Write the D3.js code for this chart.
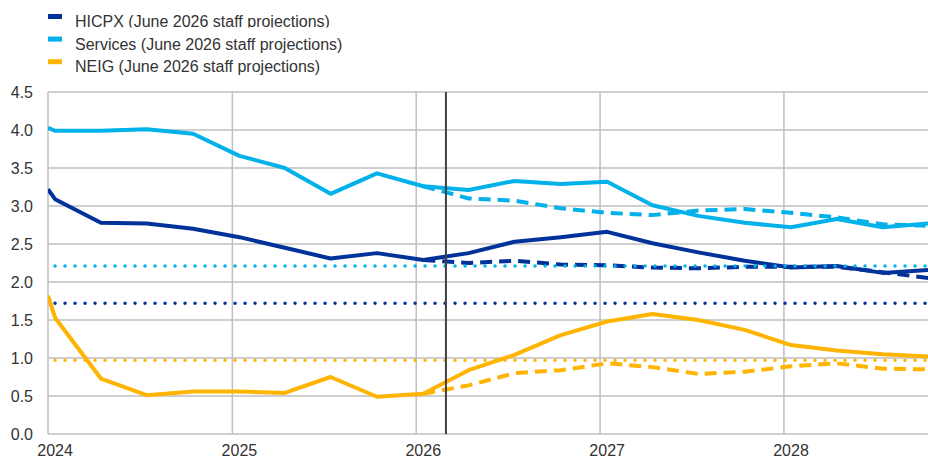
<!DOCTYPE html>
<html>
<head>
<meta charset="utf-8">
<script src="https://cdn.jsdelivr.net/npm/d3@7"></script>
<style>
  body { margin: 0; background: #fff; }
  svg { display: block; font-family: "Liberation Sans", Arial, sans-serif; }
</style>
</head>
<body>
<div id="chart"></div>
<script>
// quarterly observations (first point sits on the axis start)
const dates = [
  "2024-01-01", "2024-01-15", "2024-04-15", "2024-07-15", "2024-10-15",
  "2025-01-15", "2025-04-15", "2025-07-15", "2025-10-15",
  "2026-01-15", "2026-04-15", "2026-07-15", "2026-10-15",
  "2027-01-15", "2027-04-15", "2027-07-15", "2027-10-15",
  "2028-01-15", "2028-04-15", "2028-07-15", "2028-10-15"
];

// solid lines: June 2026 staff projections
const hicpx    = [3.22, 3.09, 2.78, 2.77, 2.70, 2.59, 2.45, 2.31, 2.38, 2.29, 2.38, 2.53, 2.59, 2.66, 2.51, 2.39, 2.28, 2.19, 2.21, 2.12, 2.16];
const services = [4.03, 3.99, 3.99, 4.01, 3.95, 3.66, 3.50, 3.16, 3.43, 3.26, 3.21, 3.33, 3.29, 3.32, 3.01, 2.87, 2.78, 2.72, 2.83, 2.72, 2.77];
const neig     = [1.82, 1.53, 0.73, 0.51, 0.56, 0.56, 0.54, 0.75, 0.49, 0.53, 0.84, 1.04, 1.30, 1.48, 1.58, 1.50, 1.37, 1.17, 1.10, 1.05, 1.02];

// dashed lines: start at 2026 Q1
const dashedStart = "2026-01-15";
const hicpxDashed    = [2.29, 2.25, 2.28, 2.23, 2.22, 2.19, 2.18, 2.20, 2.20, 2.20, 2.13, 2.05];
const servicesDashed = [3.26, 3.10, 3.07, 2.97, 2.91, 2.88, 2.94, 2.96, 2.91, 2.85, 2.76, 2.74];
const neigDashed     = [0.53, 0.64, 0.80, 0.84, 0.93, 0.88, 0.79, 0.82, 0.89, 0.93, 0.86, 0.85];

// dotted lines: averages
const averages = { hicpx: 1.72, services: 2.21, neig: 0.97 };

const cutoffDate = "2026-03-01";
const yTicks = [0, 0.5, 1, 1.5, 2, 2.5, 3, 3.5, 4, 4.5];
const years = [2024, 2025, 2026, 2027, 2028];
const legendLabels = [
  "HICPX (June 2026 staff projections)",
  "Services (June 2026 staff projections)",
  "NEIG (June 2026 staff projections)"
];

const colors = { hicpx: "#003299", services: "#00b1ea", neig: "#ffb400" };

const width = 928, height = 459;
const plotLeft = 48, plotRight = 928, plotTop = 92, plotBottom = 434;

const parse = d3.timeParse("%Y-%m-%d");
const x = d3.scaleTime()
  .domain([parse("2024-01-01"), parse("2028-10-13")])
  .range([plotLeft, plotRight]);
const y = d3.scaleLinear().domain([0, 4.5]).range([plotBottom, plotTop]);

const svg = d3.select("#chart").append("svg")
  .attr("width", width)
  .attr("height", height);

svg.append("clipPath").attr("id", "plot")
  .append("rect")
  .attr("x", plotLeft).attr("y", 0)
  .attr("width", plotRight - plotLeft).attr("height", height);

// gridlines
svg.append("g")
  .selectAll("line")
  .data(yTicks)
  .join("line")
  .attr("x1", plotLeft).attr("x2", plotRight)
  .attr("y1", d => y(d)).attr("y2", d => y(d))
  .attr("stroke", "#bfbfbf")
  .attr("stroke-width", 1.5);

svg.append("g")
  .selectAll("line")
  .data(years)
  .join("line")
  .attr("x1", d => x(new Date(d, 0, 1))).attr("x2", d => x(new Date(d, 0, 1)))
  .attr("y1", plotTop).attr("y2", plotBottom)
  .attr("stroke", "#bfbfbf")
  .attr("stroke-width", 1.5);

// y labels
svg.append("g")
  .selectAll("text")
  .data(yTicks)
  .join("text")
  .attr("x", 33)
  .attr("y", d => y(d))
  .attr("dy", "0.35em")
  .attr("text-anchor", "end")
  .attr("fill", "#333")
  .style("font-size", "16px")
  .text(d => d.toFixed(1));

// x labels, placed under the first quarter of each year
svg.append("g")
  .selectAll("text")
  .data(years)
  .join("text")
  .attr("x", d => x(new Date(d, 0, 15)))
  .attr("y", 456)
  .attr("text-anchor", "middle")
  .attr("fill", "#333")
  .style("font-size", "16px")
  .text(d => d);

const plot = svg.append("g").attr("clip-path", "url(#plot)");

const line = d3.line()
  .x(d => x(d[0]))
  .y(d => y(d[1]));

const dateObjs = dates.map(parse);
const dStart = dates.indexOf(dashedStart);

function solidPts(vals) {
  return vals.map((v, i) => [dateObjs[i], v]);
}
function dashedPts(vals) {
  return vals.map((v, i) => [dateObjs[dStart + i], v]);
}

// dashed
[["hicpx", hicpxDashed], ["services", servicesDashed], ["neig", neigDashed]].forEach(([k, vals]) => {
  plot.append("path")
    .attr("d", line(dashedPts(vals)))
    .attr("fill", "none")
    .attr("stroke", colors[k])
    .attr("stroke-width", 4)
    .attr("stroke-dasharray", "12,7");
});

// solid
[["hicpx", hicpx], ["services", services], ["neig", neig]].forEach(([k, vals]) => {
  plot.append("path")
    .attr("d", line(solidPts(vals)))
    .attr("fill", "none")
    .attr("stroke", colors[k])
    .attr("stroke-width", 4)
    .attr("stroke-linejoin", "round");
});

// dotted averages
Object.keys(averages).forEach(k => {
  plot.append("path")
    .attr("d", line([[dateObjs[1], averages[k]], [dateObjs[dateObjs.length - 1], averages[k]]]))
    .attr("fill", "none")
    .attr("stroke", colors[k])
    .attr("stroke-width", 3.5)
    .attr("stroke-linecap", "round")
    .attr("stroke-dasharray", "0,10");
});

// projection cut-off
svg.append("line")
  .attr("x1", x(parse(cutoffDate))).attr("x2", x(parse(cutoffDate)))
  .attr("y1", plotTop).attr("y2", plotBottom)
  .attr("stroke", "#404040")
  .attr("stroke-width", 2);

// legend (first row is cut at the bottom in the original)
svg.append("clipPath").attr("id", "legendClip")
  .append("rect").attr("x", 0).attr("y", 0).attr("width", width).attr("height", 27.5);

const legendKeys = ["hicpx", "services", "neig"];
legendKeys.forEach((k, i) => {
  const cy = 16.5 + i * 22.6;
  svg.append("rect")
    .attr("x", 48).attr("y", cy - 2.5)
    .attr("width", 14).attr("height", 5)
    .attr("fill", colors[k]);
  const t = svg.append("text")
    .attr("x", 75)
    .attr("y", cy + 10.5)
    .attr("fill", "#333")
    .style("font-size", "16px")
    .text(legendLabels[i]);
  if (i === 0) t.attr("clip-path", "url(#legendClip)");
});
</script>
</body>
</html>
